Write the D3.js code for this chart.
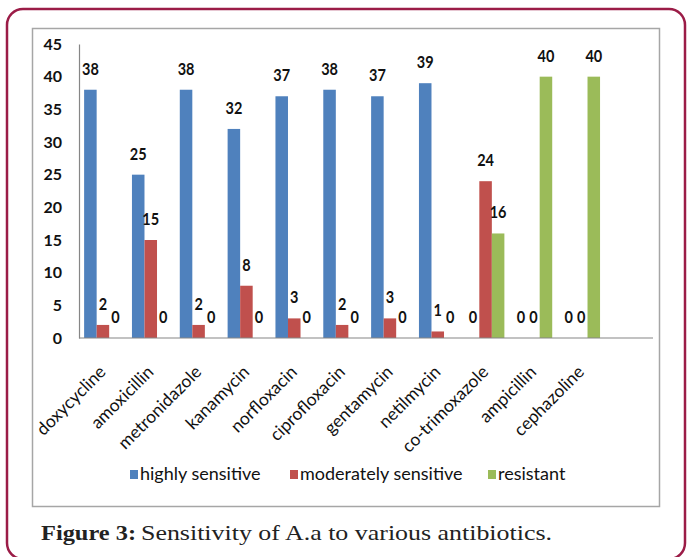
<!DOCTYPE html>
<html>
<head>
<meta charset="utf-8">
<script src="https://cdn.jsdelivr.net/npm/d3@7"></script>
<style>
  body { margin: 0; background: #fff; }
  svg { display: block; }
</style>
</head>
<body>
<div id="chart"></div>
<script>
var categories = ["doxycycline", "amoxicillin", "metronidazole", "kanamycin", "norfloxacin",
  "ciprofloxacin", "gentamycin", "netilmycin", "co-trimoxazole", "ampicillin", "cephazoline"];
var seriesNames = ["highly sensitive", "moderately sensitive", "resistant"];
var highlySensitive = [38, 25, 38, 32, 37, 38, 37, 39, 0, 0, 0];
var moderatelySensitive = [2, 15, 2, 8, 3, 2, 3, 1, 24, 0, 0];
var resistant = [0, 0, 0, 0, 0, 0, 0, 0, 16, 40, 40];
var yTicks = [0, 5, 10, 15, 20, 25, 30, 35, 40, 45];
var colors = ["#4F81BD", "#C0504D", "#9BBB59"];

var seriesValues = [highlySensitive, moderatelySensitive, resistant];

var width = 688, height = 557;
var svg = d3.select("#chart").append("svg")
  .attr("width", width)
  .attr("height", height);

// outer maroon frame (bottom edge runs off the picture)
svg.append("rect")
  .attr("x", 7).attr("y", 9)
  .attr("width", 678).attr("height", 550)
  .attr("rx", 16).attr("ry", 16)
  .attr("fill", "none")
  .attr("stroke", "#9B1C47")
  .attr("stroke-width", 2.5);

// chart frame
svg.append("rect")
  .attr("x", 32.5).attr("y", 28.5)
  .attr("width", 627).attr("height", 478)
  .attr("fill", "#fff")
  .attr("stroke", "#A6A6A6")
  .attr("stroke-width", 1.5);

var plotLeft = 79, plotRight = 653, y0 = 338, yTop = 44;
var step = (plotRight - plotLeft) / 12;   // excel left one empty slot on the right

var x = d3.scaleBand()
  .domain(categories)
  .range([plotLeft, plotLeft + step * categories.length])
  .paddingInner(0.214)
  .paddingOuter(0.107);

var xs = d3.scaleBand()
  .domain(seriesNames)
  .range([0, x.bandwidth()]);

var y = d3.scaleLinear()
  .domain([0, 45])
  .range([y0, yTop]);

var numFont = "Lato, 'Open Sans', sans-serif";

// y axis
var yAxis = svg.append("g")
  .attr("transform", "translate(" + plotLeft + ",0)")
  .call(d3.axisLeft(y).tickValues(yTicks).tickSize(0).tickPadding(17));
yAxis.select(".domain").attr("stroke", "#868686").attr("stroke-width", 1.2);
yAxis.selectAll("text")
  .attr("font-family", numFont)
  .attr("font-size", 16)
  .attr("font-weight", "bold")
  .attr("fill", "#111");

// bars
var rows = [];
seriesValues.forEach(function(vals, s) {
  vals.forEach(function(v, i) {
    rows.push({ cat: categories[i], series: seriesNames[s], s: s, value: v });
  });
});

svg.selectAll("rect.bar")
  .data(rows)
  .enter()
  .append("rect")
    .attr("class", "bar")
    .attr("x", function(d) { return x(d.cat) + xs(d.series); })
    .attr("y", function(d) { return y(d.value); })
    .attr("width", xs.bandwidth())
    .attr("height", function(d) { return y0 - y(d.value); })
    .attr("fill", function(d) { return colors[d.s]; });

svg.selectAll("text.val")
  .data(rows)
  .enter()
  .append("text")
    .attr("class", "val")
    .attr("transform", function(d) {
      var cx = x(d.cat) + xs(d.series) + xs.bandwidth() / 2;
      return "translate(" + cx + "," + (y(d.value) - 15) + ") scale(1,1.15)";
    })
    .attr("text-anchor", "middle")
    .attr("font-family", numFont)
    .attr("font-size", 14.5)
    .attr("font-weight", "bold")
    .attr("fill", "#111")
    .text(function(d) { return d.value; });

// x baseline + category labels
var xAxis = svg.append("g")
  .attr("transform", "translate(0," + y0 + ")")
  .call(d3.axisBottom(x).tickSize(0).tickFormat(""));
xAxis.select(".domain").remove();
xAxis.append("line")
  .attr("x1", plotLeft).attr("x2", plotRight)
  .attr("y1", 0).attr("y2", 0)
  .attr("stroke", "#868686").attr("stroke-width", 1.2);

svg.selectAll("text.cat")
  .data(categories)
  .enter()
  .append("text")
    .attr("class", "cat")
    .attr("transform", function(d) {
      return "translate(" + (x(d) + x.bandwidth() / 2 + 4) + ",373) rotate(-45)";
    })
    .attr("text-anchor", "end")
    .attr("font-family", numFont)
    .attr("font-size", 17.5)
    .attr("fill", "#111")
    .text(function(d) { return d; });

// legend
var legendX = [130, 290, 488];
var legend = svg.selectAll("g.legend")
  .data(seriesNames)
  .enter()
  .append("g")
    .attr("class", "legend")
    .attr("transform", function(d, i) { return "translate(" + legendX[i] + ",474)"; });
legend.append("rect")
  .attr("x", 0).attr("y", -4)
  .attr("width", 8).attr("height", 9)
  .attr("fill", function(d, i) { return colors[i]; });
legend.append("text")
  .attr("x", 10).attr("y", 6)
  .attr("font-family", numFont)
  .attr("font-size", 18)
  .attr("fill", "#111")
  .text(function(d) { return d; });

// caption
svg.append("text")
  .attr("x", 41).attr("y", 540)
  .attr("font-family", "'Liberation Serif', 'DejaVu Serif', serif")
  .attr("font-size", 22)
  .attr("font-weight", "bold")
  .attr("fill", "#222")
  .attr("textLength", 95)
  .attr("lengthAdjust", "spacingAndGlyphs")
  .text("Figure 3:");
svg.append("text")
  .attr("x", 141).attr("y", 540)
  .attr("font-family", "'Liberation Serif', 'DejaVu Serif', serif")
  .attr("font-size", 22)
  .attr("fill", "#222")
  .attr("textLength", 411)
  .attr("lengthAdjust", "spacingAndGlyphs")
  .text("Sensitivity of A.a to various antibiotics.");
</script>
</body>
</html>
